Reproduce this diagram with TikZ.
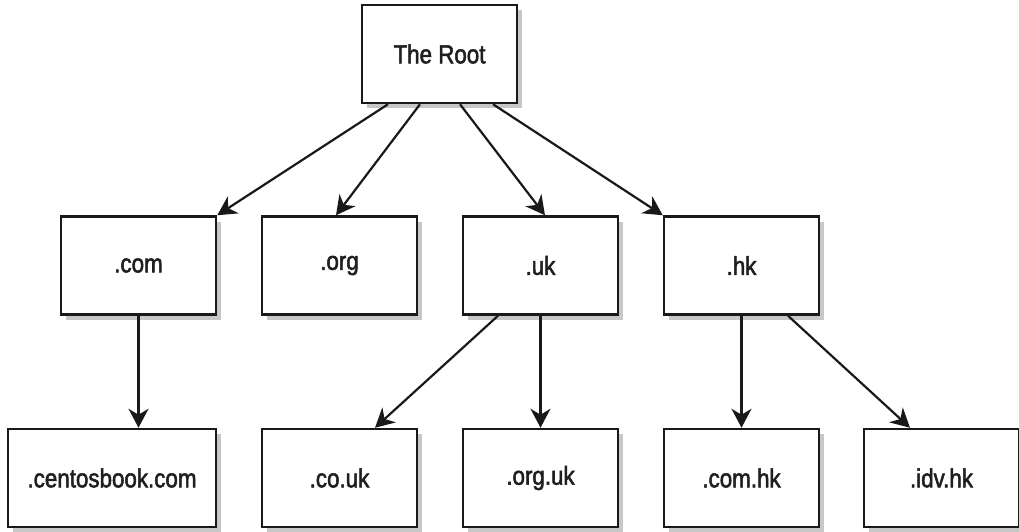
\documentclass[tikz,border=0pt]{standalone}
\usepackage{fontspec}
\setmainfont{Liberation Sans}[FakeStretch=0.86]
\newfontfamily\boxfont{Liberation Sans}[FakeStretch=0.86,FakeBold=2]
\usetikzlibrary{arrows.meta,shadows}
\begin{document}
\begin{tikzpicture}[x=1pt,y=-1pt,
  box/.style={draw=black!90, line width=2.5pt, fill=white, minimum width=155pt, minimum height=98pt,
    inner sep=0pt, font=\boxfont\fontsize{26}{30}\selectfont, text=black!88,
    drop shadow={shadow xshift=5pt, shadow yshift=-5pt, fill=black!22, opacity=1}},
  link/.style={line width=2.2pt, draw=black!90, -{Stealth[length=19pt,width=20pt,inset=6pt]}}]
\useasboundingbox (0,0) rectangle (1019,531);
% row 1
\node[box] (root) at (439.5,54) {The Root};
% row 2
\node[box] (com) at (138.5,265.5) {.com};
\node[box] (org) at (339.5,265.5) {.org};
\node[box] (uk)  at (540.5,265.5) {.uk};
\node[box] (hk)  at (741.5,265.5) {.hk};
% row 3
\node[box, minimum width=208pt] (centos) at (112,478) {.centosbook.com};
\node[box] (couk)  at (339.5,478) {.co.uk};
\node[box] (orguk) at (540.5,478) {.org.uk};
\node[box] (comhk) at (741.5,478) {.com.hk};
\node[box] (idvhk) at (941.5,478) {.idv.hk};
% connectors
\draw[link] ([xshift=-51.5pt]root.south) -- (com.north east);
\draw[link] ([xshift=-19.5pt]root.south) -- ([xshift=-3.5pt]org.north);
\draw[link] ([xshift=20.5pt]root.south) -- ([xshift=4.5pt]uk.north);
\draw[link] ([xshift=53.5pt]root.south) -- (hk.north west);
\draw[link] (com.south) -- (com.south |- centos.north);
\draw[link] ([xshift=-42.5pt]uk.south) -- ([xshift=35.5pt]couk.north);
\draw[link] (uk.south) -- (orguk.north);
\draw[link] (hk.south) -- (comhk.north);
\draw[link] ([xshift=46.5pt]hk.south) -- ([xshift=-31.5pt]idvhk.north);
\end{tikzpicture}
\end{document}
